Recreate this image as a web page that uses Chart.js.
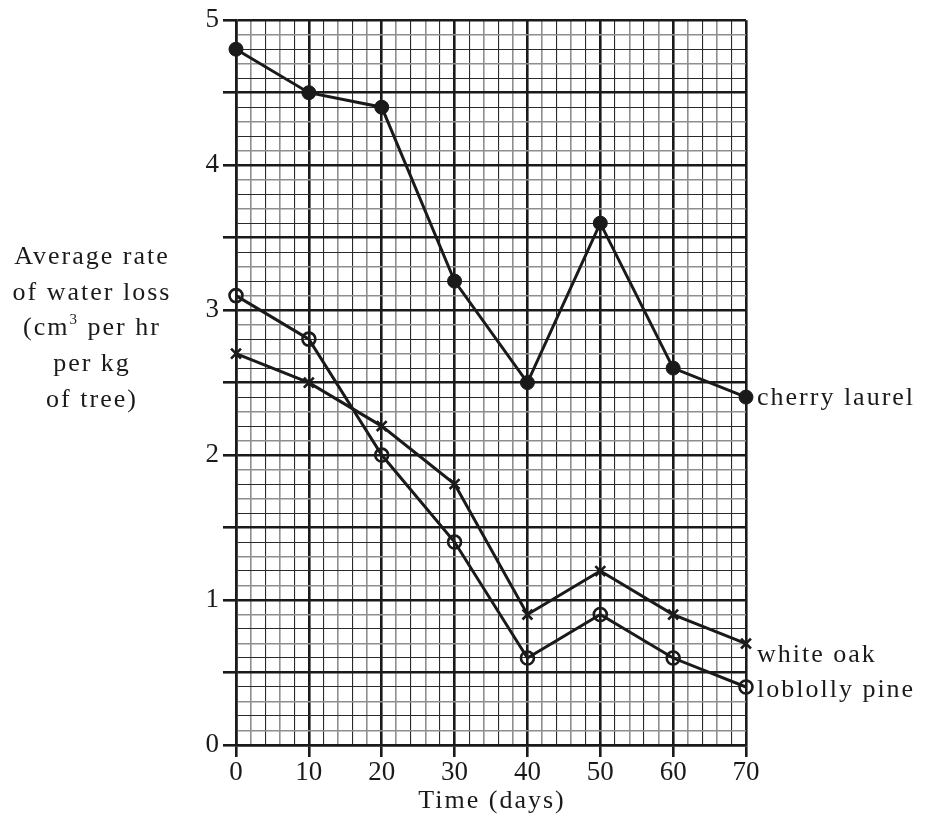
<!DOCTYPE html>
<html>
<head>
<meta charset="utf-8">
<script src="https://cdn.jsdelivr.net/npm/chart.js@4"></script>
<style>
  html, body { margin: 0; padding: 0; background: #fff; }
  #wrap { width: 925px; height: 828px; }
</style>
</head>
<body>
<div id="wrap"><canvas id="waterLoss" width="925" height="828"></canvas></div>
<script>
// ---- data ----
var days = [0, 10, 20, 30, 40, 50, 60, 70];
var cherryLaurel = [4.8, 4.5, 4.4, 3.2, 2.5, 3.6, 2.6, 2.4];
var whiteOak = [2.7, 2.5, 2.2, 1.8, 0.9, 1.2, 0.9, 0.7];
var loblollyPine = [3.1, 2.8, 2.0, 1.4, 0.6, 0.9, 0.6, 0.4];
var seriesNames = ['cherry laurel', 'white oak', 'loblolly pine'];
var yLabelLines = ['Average rate', 'of water loss', '(cm3 per hr', 'per kg', 'of tree)'];
var xTitle = 'Time (days)';

var SERIF = '"Liberation Serif", "DejaVu Serif", serif';
var INK = '#1a1a1a';

function pts(ys) {
    return days.map(function (d, i) { return { x: d, y: ys[i] }; });
}

function isMajorX(v) { return Math.abs(v % 10) < 1e-6; }
function isMajorY(v) { return Math.abs(v * 2 - Math.round(v * 2)) < 1e-6; }
// graph paper: minor lines alternate dark and grey
function minorColor(idx) { return idx % 2 === 0 ? '#2a2a2a' : '#8e8e8e'; }
function minorWidth(idx) { return idx % 2 === 0 ? 1.1 : 1.6; }

// labels at the right end of each line, the axis captions
var textPlugin = {
    id: 'texts',
    afterDraw: function (chart) {
        var c = chart.ctx, xs = chart.scales.x, ys = chart.scales.y;
        c.save();
        c.fillStyle = INK;
        c.letterSpacing = '2px';
        c.font = '26px ' + SERIF;
        c.textBaseline = 'middle';
        c.textAlign = 'left';
        var xEnd = xs.getPixelForValue(70) + 11;
        c.fillText(seriesNames[0], xEnd, ys.getPixelForValue(cherryLaurel[7]) + 1);
        c.fillText(seriesNames[1], xEnd, ys.getPixelForValue(whiteOak[7]) + 12);
        c.fillText(seriesNames[2], xEnd, ys.getPixelForValue(loblollyPine[7]) + 3);

        // x title
        c.textAlign = 'center';
        c.fillText(xTitle, (xs.left + xs.right) / 2 + 1, 801);

        // y caption, centred lines
        var cx = 92, y0 = 257, step = 35.8;
        yLabelLines.forEach(function (line, i) {
            var y = y0 + i * step;
            if (line.indexOf('cm3') >= 0) {
                var a = '(cm', b = ' per hr';
                c.font = '26px ' + SERIF;
                var wa = c.measureText(a).width, wb = c.measureText(b).width;
                c.font = '15px ' + SERIF;
                var ws = c.measureText('3').width;
                var left = cx - (wa + ws + wb) / 2;
                c.textAlign = 'left';
                c.font = '26px ' + SERIF;
                c.fillText(a, left, y);
                c.font = '15px ' + SERIF;
                c.fillText('3', left + wa, y - 9);
                c.font = '26px ' + SERIF;
                c.fillText(b, left + wa + ws, y);
                c.textAlign = 'center';
            } else {
                c.fillText(line, cx, y);
            }
        });
        c.restore();
    }
};

var ctx = document.getElementById('waterLoss').getContext('2d');
var chart = new Chart(ctx, {
    type: 'line',
    data: {
        datasets: [{
            label: seriesNames[0],
            data: pts(cherryLaurel),
            borderColor: INK,
            backgroundColor: INK,
            borderWidth: 3,
            pointStyle: 'circle',
            pointRadius: 7,
            pointBorderWidth: 1,
            clip: false
        }, {
            label: seriesNames[1],
            data: pts(whiteOak),
            borderColor: INK,
            backgroundColor: INK,
            borderWidth: 3,
            pointStyle: 'crossRot',
            pointRadius: 7,
            pointBorderWidth: 2.6,
            clip: false
        }, {
            label: seriesNames[2],
            data: pts(loblollyPine),
            borderColor: INK,
            backgroundColor: 'rgba(0,0,0,0)',
            borderWidth: 3,
            pointStyle: 'circle',
            pointRadius: 6.5,
            pointBorderWidth: 2.6,
            clip: false
        }]
    },
    options: {
        responsive: false,
        animation: false,
        layout: { padding: { top: 19, right: 179, left: 0, bottom: 0 } },
        plugins: { legend: { display: false }, tooltip: { enabled: false } },
        scales: {
            x: {
                type: 'linear',
                min: 0, max: 70,
                afterFit: function (s) { s.height = 828 - 745; },
                border: { display: true, color: INK, width: 2.5 },
                grid: {
                    drawTicks: true,
                    tickLength: 12,
                    color: function (c) { return isMajorX(c.tick.value) ? INK : minorColor(c.index); },
                    lineWidth: function (c) { return isMajorX(c.tick.value) ? 2.6 : minorWidth(c.index); },
                    tickColor: function (c) { return isMajorX(c.tick.value) ? INK : 'rgba(0,0,0,0)'; },
                    tickWidth: function (c) { return isMajorX(c.tick.value) ? 2.6 : 0; }
                },
                ticks: {
                    stepSize: 2,
                    autoSkip: false,
                    maxRotation: 0,
                    padding: 0,
                    color: INK,
                    font: { family: SERIF, size: 27 },
                    callback: function (v) { return isMajorX(v) ? String(Math.round(v)) : ''; }
                },
                title: { display: false }
            },
            y: {
                min: 0, max: 5,
                afterFit: function (s) { s.width = 236; },
                border: { display: true, color: INK, width: 2.5 },
                grid: {
                    drawTicks: true,
                    tickLength: 13,
                    color: function (c) { return isMajorY(c.tick.value) ? INK : minorColor(c.index); },
                    lineWidth: function (c) { return isMajorY(c.tick.value) ? 2.6 : minorWidth(c.index); },
                    tickColor: function (c) { return isMajorY(c.tick.value) ? INK : 'rgba(0,0,0,0)'; },
                    tickWidth: function (c) { return isMajorY(c.tick.value) ? 2.6 : 0; }
                },
                ticks: {
                    stepSize: 0.1,
                    autoSkip: false,
                    padding: 4,
                    color: INK,
                    font: { family: SERIF, size: 27 },
                    callback: function (v) {
                        return Math.abs(v - Math.round(v)) < 1e-6 ? String(Math.round(v)) : '';
                    }
                }
            }
        }
    },
    plugins: [textPlugin]
});
</script>
</body>
</html>
